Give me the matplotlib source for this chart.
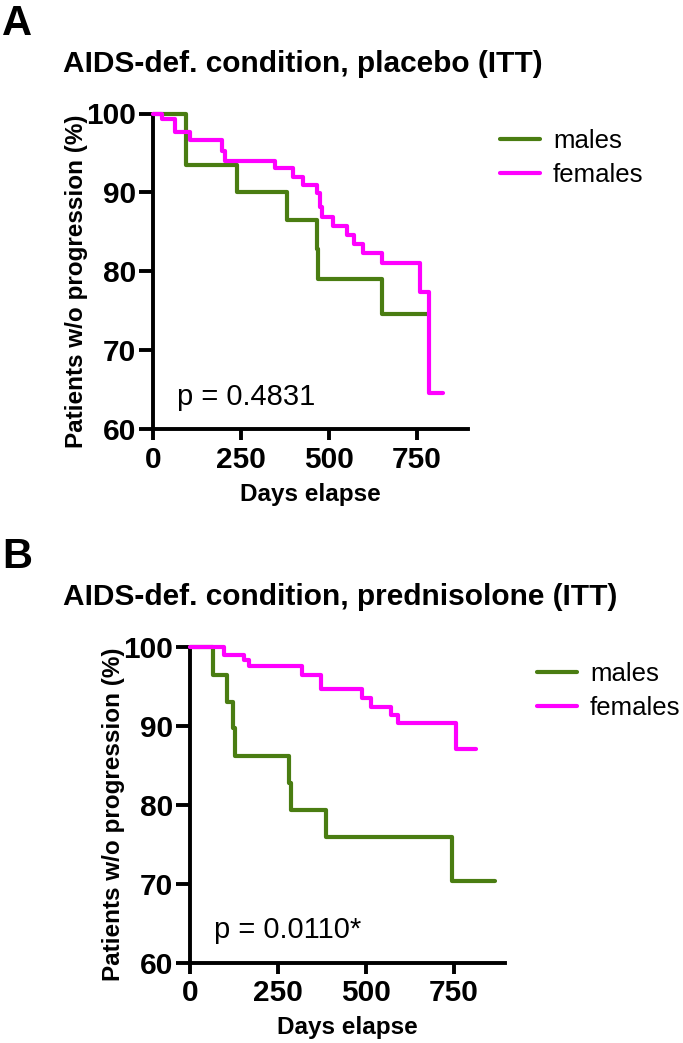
import matplotlib
matplotlib.use("Agg")
import matplotlib.pyplot as plt

plt.rcParams['font.family'] = ['Liberation Sans', 'DejaVu Sans']

# ---- data (days, % without progression) ----
a_male_days = [0, 95, 240, 380, 466, 469, 650, 780]
a_male_surv = [100, 93.5, 90.0, 86.5, 82.9, 79.0, 74.6, 74.6]
a_female_days = [0, 26, 63, 106, 196, 204, 347, 399, 428, 466, 475, 480,
                 513, 551, 570, 598, 651, 759, 783, 824]
a_female_surv = [100, 99.3, 97.6, 96.7, 95.3, 94.0, 93.1, 92.0, 90.9, 89.9,
                 88.2, 86.9, 85.8, 84.6, 83.5, 82.3, 81.1, 77.4, 64.6, 64.6]

b_male_days = [0, 66, 104, 123, 127, 281, 286, 386, 745, 868]
b_male_surv = [100, 96.4, 93.0, 89.7, 86.2, 82.7, 79.3, 75.9, 70.4, 70.4]
b_female_days = [0, 97, 154, 168, 317, 372, 490, 513, 570, 592, 756, 812]
b_female_surv = [100, 99.0, 98.3, 97.5, 96.4, 94.7, 93.5, 92.4, 91.4, 90.3, 87.1, 87.1]

x_ticks = [0, 250, 500, 750]
y_ticks = [60, 70, 80, 90, 100]
labels = ['males', 'females']
titles = ['AIDS-def. condition, placebo (ITT)', 'AIDS-def. condition, prednisolone (ITT)']
pvals = ['p = 0.4831', 'p = 0.0110*']

GREEN = '#4a7d12'
MAGENTA = '#ff00ff'

W, H = 683, 1043
fig = plt.figure(figsize=(W / 100, H / 100), dpi=100)


def frac_box(left, right, top, bottom):
    return [left / W, 1 - bottom / H, (right - left) / W, (bottom - top) / H]


def km_panel(ax, male_d, male_s, female_d, female_s, pval):
    ax.plot(male_d, male_s, drawstyle='steps-post', color=GREEN, lw=3,
            clip_on=False, solid_capstyle='round', label=labels[0], zorder=3)
    ax.plot(female_d, female_s, drawstyle='steps-post', color=MAGENTA, lw=3,
            clip_on=False, solid_capstyle='round', label=labels[1], zorder=3)
    ax.set_xlim(0, 895)
    ax.set_ylim(60, 100)
    ax.set_xticks(x_ticks)
    ax.set_yticks(y_ticks)
    for s in ['top', 'right']:
        ax.spines[s].set_visible(False)
    for s in ['left', 'bottom']:
        ax.spines[s].set_linewidth(2.8)
        ax.spines[s].set_capstyle('projecting')
    ax.tick_params(axis='y', length=10, width=2.8, pad=2, labelsize=21.5)
    ax.tick_params(axis='x', length=8, width=2.8, pad=4, labelsize=21.5)
    for t in ax.get_xticklabels() + ax.get_yticklabels():
        t.set_fontweight('bold')
    ax.set_ylabel('Patients w/o progression (%)', fontsize=17.5, fontweight='bold')
    ax.yaxis.set_label_coords(-0.205, 0.47)
    ax.set_xlabel('Days elapse', fontsize=17.5, fontweight='bold')
    ax.xaxis.set_label_coords(0.5, -0.17)
    ax.text(0.076, 0.077, pval, transform=ax.transAxes, fontsize=21,
            va='baseline', ha='left')
    leg = ax.legend(loc='upper left', bbox_to_anchor=(1.07, 0.985), frameon=False,
                    fontsize=18.5, handlelength=1.55, handletextpad=0.5,
                    labelspacing=0.4, borderaxespad=0)
    for h in leg.get_lines():
        h.set_linewidth(3)
        h.set_solid_capstyle('round')


axA = fig.add_axes(frac_box(152.7, 468, 113.5, 429.3))
km_panel(axA, a_male_days, a_male_surv, a_female_days, a_female_surv, pvals[0])

axB = fig.add_axes(frac_box(190, 505, 646.7, 962.7))
km_panel(axB, b_male_days, b_male_surv, b_female_days, b_female_surv, pvals[1])

fig.text(63 / W, 1 - 72 / H, titles[0], fontsize=21.5, fontweight='bold',
         va='baseline', ha='left')
fig.text(63 / W, 1 - 605 / H, titles[1], fontsize=21.5, fontweight='bold',
         va='baseline', ha='left')
fig.text(2 / W, 1 - 35 / H, 'A', fontsize=30, fontweight='bold', va='baseline')
fig.text(2 / W, 1 - 568 / H, 'B', fontsize=30, fontweight='bold', va='baseline')

fig.savefig('out.png', dpi=100)
